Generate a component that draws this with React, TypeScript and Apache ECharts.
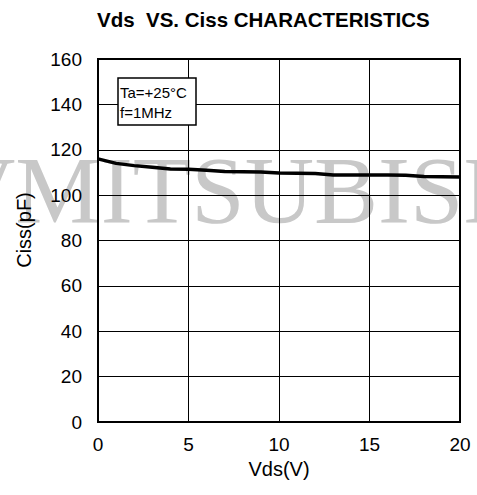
import React, { useEffect, useRef } from "react";
import * as echarts from "echarts";

const vdsValues = [0, 1, 2, 3, 4, 5, 6, 7, 8, 9, 10, 11, 12, 13, 14, 15, 16, 17, 18, 19, 20];
const cissValues = [116, 114, 113, 112.3, 111.5, 111.4, 111, 110.4, 110.3, 110.2, 109.7, 109.6, 109.5, 108.9, 108.9, 108.9, 108.9, 108.8, 108.2, 108.1, 108.0];
const titleText = "Vds  VS. Ciss CHARACTERISTICS";
const xName = "Vds(V)";
const yName = "Ciss(pF)";
const noteLines = ["Ta=+25°C", "f=1MHz"];
const watermark = "VMITSUBISHI";

export default function App() {
  const ref = useRef<HTMLDivElement>(null);
  useEffect(() => {
    if (!ref.current) return;
    const chart = echarts.init(ref.current, null, { renderer: "svg" });
    const sans = "Liberation Sans, Arial, sans-serif";
    chart.setOption({
      animation: false,
      backgroundColor: "#fff",
      title: {
        text: titleText,
        left: 97,
        top: 9,
        padding: 0,
        textStyle: { fontFamily: sans, fontSize: 20.5, fontWeight: "bold", color: "#000" },
      },
      grid: {
        left: 98,
        right: 17,
        top: 59,
        bottom: 73,
        show: true,
        borderColor: "#000",
        borderWidth: 2,
        backgroundColor: "transparent",
      },
      xAxis: {
        type: "value",
        min: 0,
        max: 20,
        interval: 5,
        axisLine: { show: true, lineStyle: { color: "#000", width: 2 } },
        axisTick: { show: false },
        splitLine: { show: true, lineStyle: { color: "#000", width: 1 } },
        axisLabel: { color: "#000", fontSize: 19, fontFamily: sans, margin: 13 },
        name: xName,
        nameLocation: "middle",
        nameGap: 36,
        nameTextStyle: { color: "#000", fontSize: 20, fontFamily: sans },
      },
      yAxis: {
        type: "value",
        min: 0,
        max: 160,
        interval: 20,
        axisLine: { show: true, lineStyle: { color: "#000", width: 2 } },
        axisTick: { show: false },
        splitLine: { show: true, lineStyle: { color: "#000", width: 1 } },
        axisLabel: { color: "#000", fontSize: 19, fontFamily: sans, margin: 16 },
      },
      graphic: [
        {
          type: "text",
          z: -100,
          x: -54,
          y: 190,
          silent: true,
          style: {
            text: watermark,
            fontSize: 96,
            fontFamily: "Liberation Serif, Times New Roman, serif",
            fill: "#c8c8c8",
            verticalAlign: "middle",
            align: "left",
          },
        },
        {
          type: "text",
          x: 24,
          y: 230,
          rotation: Math.PI / 2,
          style: {
            text: yName,
            fontSize: 20,
            fontFamily: sans,
            fill: "#000",
            align: "center",
            verticalAlign: "middle",
          },
        },
        {
          type: "rect",
          z: 10,
          shape: { x: 118, y: 78, width: 78, height: 47 },
          style: { fill: "#fff", stroke: "#000", lineWidth: 1.5 },
        },
        {
          type: "text",
          z: 11,
          x: 120,
          y: 92,
          style: { text: noteLines[0], fontSize: 15, fontFamily: sans, fill: "#000", verticalAlign: "middle" },
        },
        {
          type: "text",
          z: 11,
          x: 120,
          y: 112,
          style: { text: noteLines[1], fontSize: 15, fontFamily: sans, fill: "#000", verticalAlign: "middle" },
        },
      ],
      series: [
        {
          type: "line",
          data: vdsValues.map((v, i) => [v, cissValues[i]]),
          showSymbol: false,
          symbol: "none",
          lineStyle: { color: "#000", width: 3.5 },
          z: 5,
        },
      ],
    });
    return () => chart.dispose();
  }, []);
  return <div ref={ref} style={{ position: "fixed", left: 0, top: 0, width: 477, height: 495 }} />;
}
